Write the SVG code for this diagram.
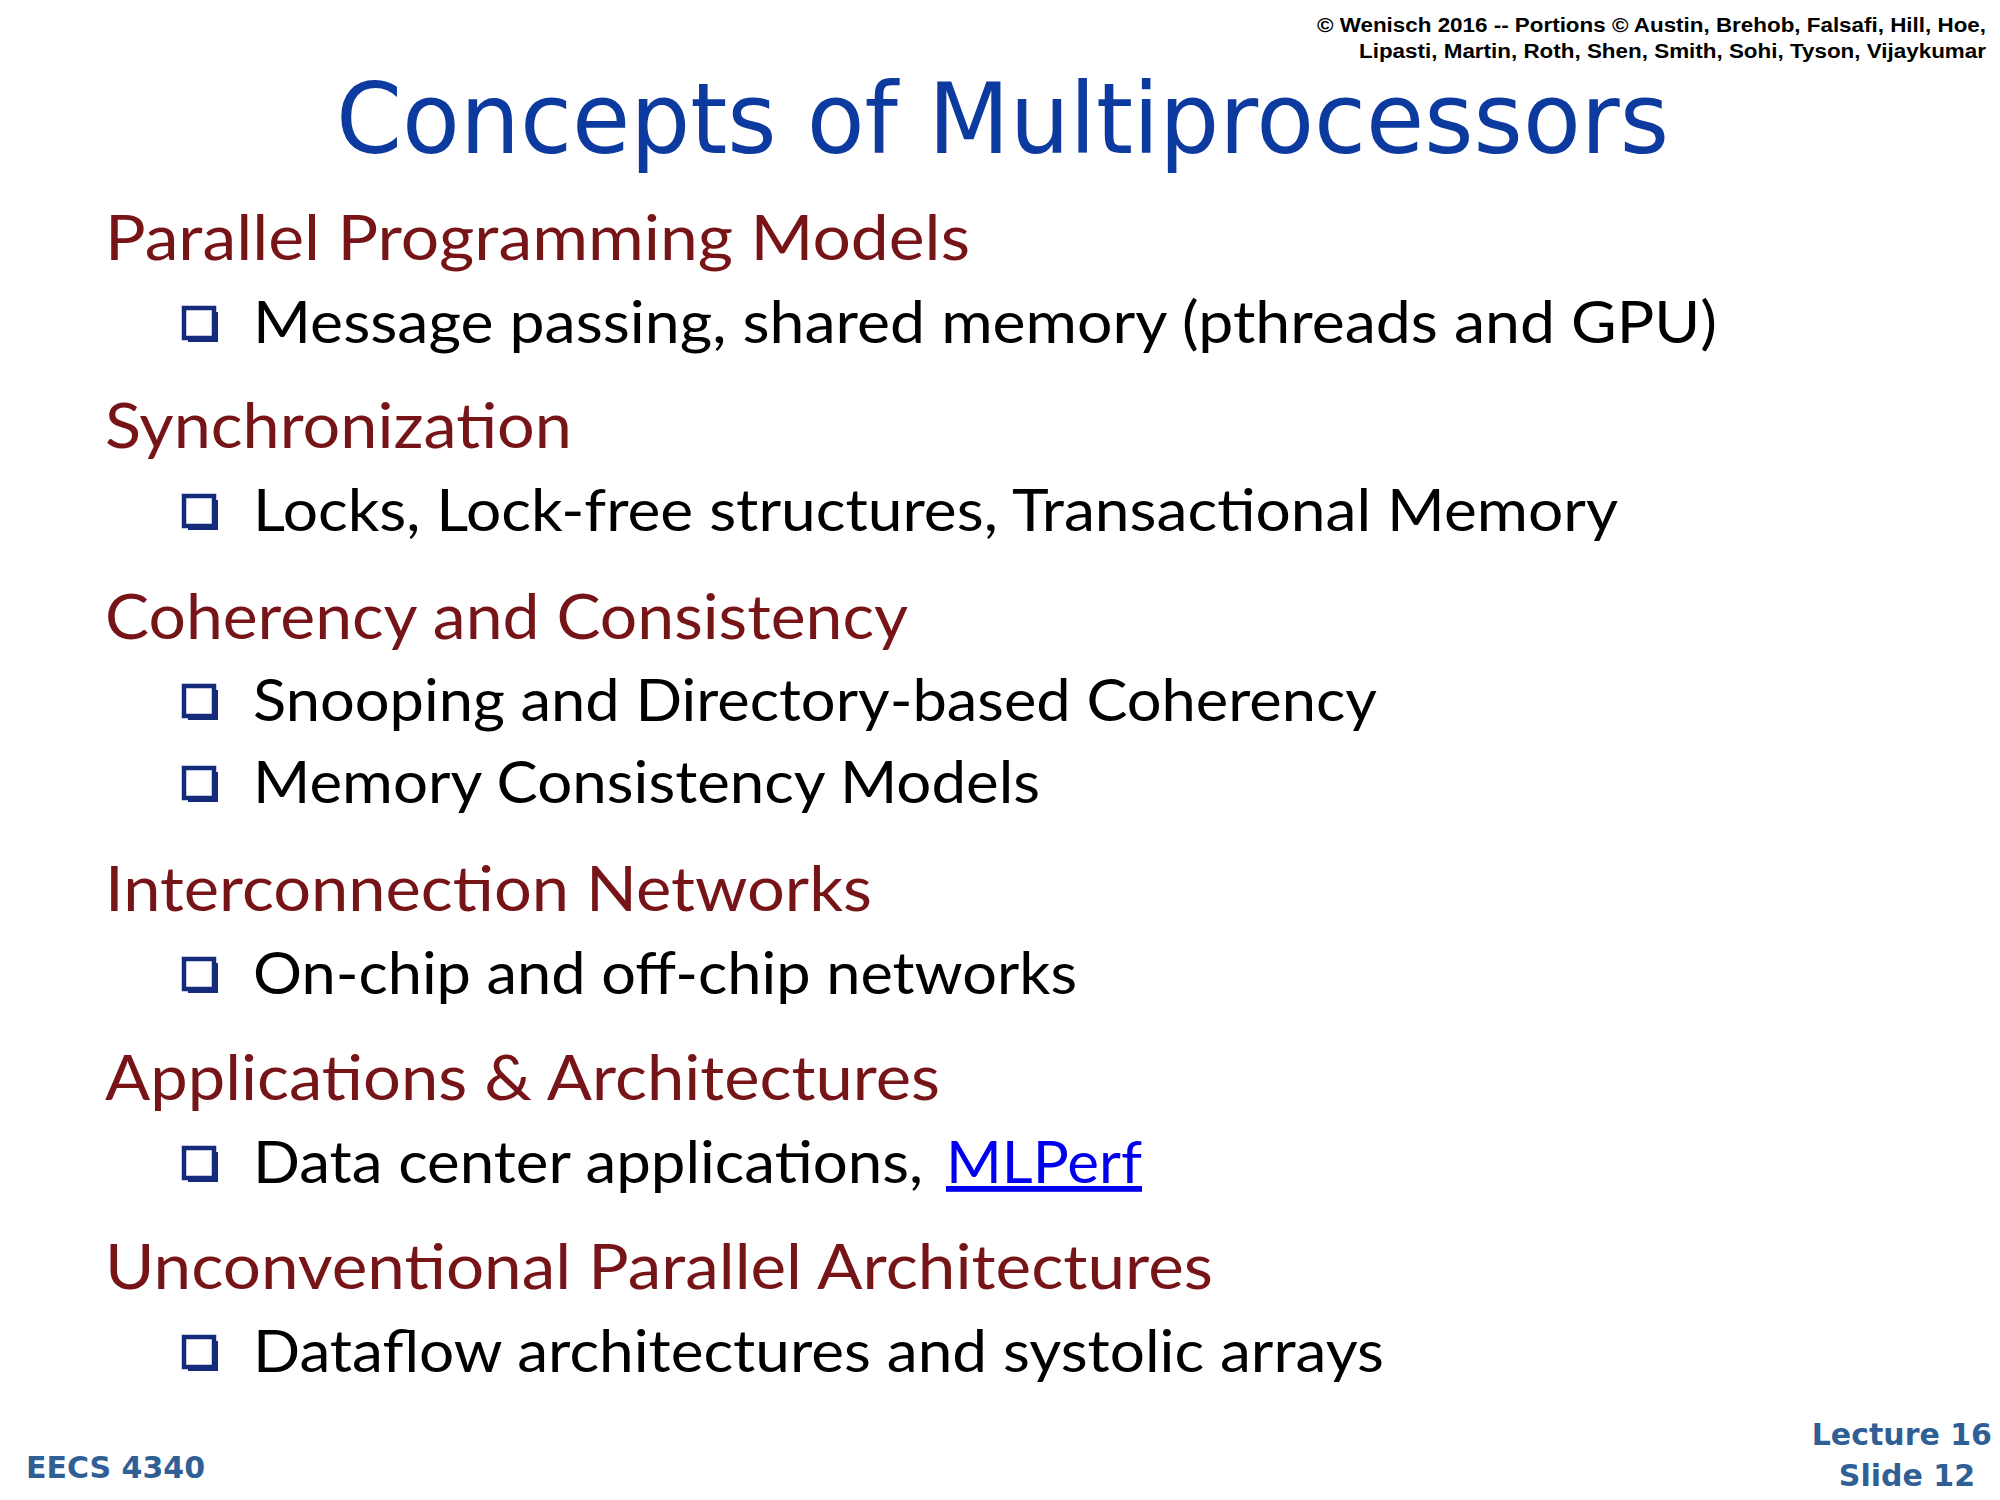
<svg xmlns="http://www.w3.org/2000/svg" width="2000" height="1500" viewBox="0 0 2000 1500">
<style>
.h{font-family:Lato,"Open Sans",sans-serif;font-size:62px;fill:#761418}
.b{font-family:Lato,"Open Sans",sans-serif;font-size:58px;fill:#000}
.c{font-family:"Liberation Sans",Arial,sans-serif;font-size:20px;font-weight:bold;fill:#000;text-anchor:end}
.f{font-family:"DejaVu Sans",sans-serif;font-size:30px;font-weight:bold;fill:#2f5f95}
</style>
<defs>
<g id="bx"><rect x="4" y="4" width="30" height="30" fill="#142a7a"/><rect x="0" y="0" width="30" height="30" fill="#fff" stroke="#142a7a" stroke-width="4.5"/></g>
</defs>
<text class="c" x="1986" y="32" textLength="669" lengthAdjust="spacingAndGlyphs">© Wenisch 2016 -- Portions © Austin, Brehob, Falsafi, Hill, Hoe,</text>
<text class="c" x="1986" y="58" textLength="627" lengthAdjust="spacingAndGlyphs">Lipasti, Martin, Roth, Shen, Smith, Sohi, Tyson, Vijaykumar</text>
<text x="336" y="153" textLength="1333" lengthAdjust="spacingAndGlyphs" style="font-family:'DejaVu Sans',sans-serif;font-size:98px;fill:#0d3a9e">Concepts of Multiprocessors</text>
<text class="h" x="105" y="260" textLength="865" lengthAdjust="spacingAndGlyphs">Parallel Programming Models</text>
<text class="h" x="105" y="448" textLength="467" lengthAdjust="spacingAndGlyphs">Synchronization</text>
<text class="h" x="105" y="639" textLength="803" lengthAdjust="spacingAndGlyphs">Coherency and Consistency</text>
<text class="h" x="105" y="911" textLength="767" lengthAdjust="spacingAndGlyphs">Interconnection Networks</text>
<text class="h" x="105" y="1100" textLength="835" lengthAdjust="spacingAndGlyphs">Applications &amp; Architectures</text>
<text class="h" x="105" y="1289" textLength="1108" lengthAdjust="spacingAndGlyphs">Unconventional Parallel Architectures</text>
<use href="#bx" x="184" y="308"/><text class="b" x="253" y="343" textLength="1464" lengthAdjust="spacingAndGlyphs">Message passing, shared memory (pthreads and GPU)</text>
<use href="#bx" x="184" y="496"/><text class="b" x="253" y="531" textLength="1365" lengthAdjust="spacingAndGlyphs">Locks, Lock-free structures, Transactional Memory</text>
<use href="#bx" x="184" y="686"/><text class="b" x="253" y="721" textLength="1124" lengthAdjust="spacingAndGlyphs">Snooping and Directory-based Coherency</text>
<use href="#bx" x="184" y="768"/><text class="b" x="253" y="803" textLength="787" lengthAdjust="spacingAndGlyphs">Memory Consistency Models</text>
<use href="#bx" x="184" y="959"/><text class="b" x="253" y="994" textLength="824" lengthAdjust="spacingAndGlyphs">On-chip and off-chip networks</text>
<use href="#bx" x="184" y="1148"/><text class="b" x="253" y="1183" textLength="670" lengthAdjust="spacingAndGlyphs">Data center applications,</text>
<text class="b" x="946" y="1183" textLength="196" lengthAdjust="spacingAndGlyphs" style="fill:#0000ee;text-decoration:underline">MLPerf</text>
<use href="#bx" x="184" y="1337"/><text class="b" x="253" y="1372" textLength="1131" lengthAdjust="spacingAndGlyphs">Dataflow architectures and systolic arrays</text>
<text class="f" x="26" y="1478">EECS 4340</text>
<text class="f" x="1992" y="1445" text-anchor="end">Lecture 16</text>
<text class="f" x="1975" y="1486" text-anchor="end">Slide 12</text>
</svg>
